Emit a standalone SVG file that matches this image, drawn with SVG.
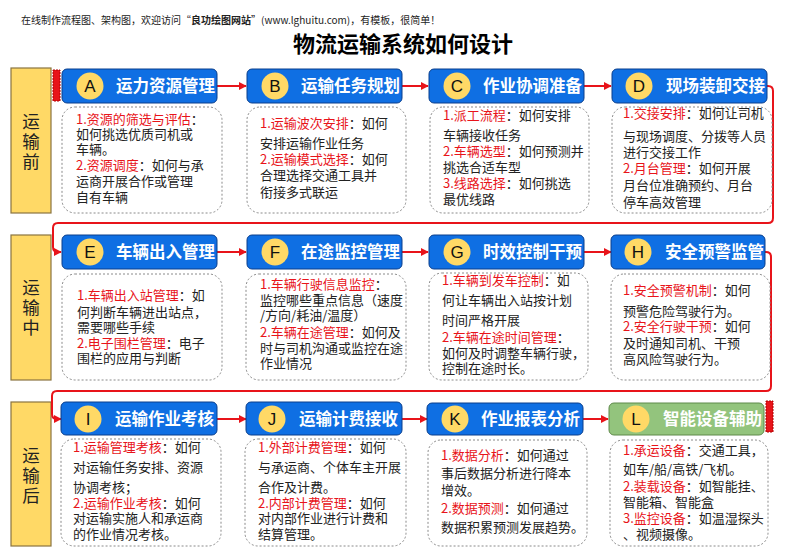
<svg xmlns="http://www.w3.org/2000/svg" width="790" height="558" viewBox="0 0 790 558">
<defs>
<marker id="arr" viewBox="0 0 10 10" refX="9" refY="5" markerWidth="8" markerHeight="8" markerUnits="userSpaceOnUse" orient="auto"><path d="M0,0 L10,5 L0,10 z" fill="#E8141A"/></marker>
<style>
text{font-family:"Noto Sans CJK SC","Liberation Sans",sans-serif;}
.note{font-size:10px;fill:#222;}
.title{font-size:22px;font-weight:700;fill:#000;}
.side{fill:#FFD966;stroke:#8A7440;stroke-width:1.2;}
.sidet{font-size:17.5px;fill:#222;text-anchor:middle;}
.hd{fill:#0F6FE3;stroke:#0A3E8C;stroke-width:1;}
.hdg{fill:#93C47D;stroke:#5E8A4A;stroke-width:1;}
.circ{fill:#FFD966;}
.let{font-family:"Liberation Sans","Noto Sans CJK SC",sans-serif;font-size:17px;fill:#111;text-anchor:middle;}
.ht{font-size:16.5px;font-weight:700;fill:#fff;}
.box{fill:#fff;stroke:#8A8A8A;stroke-width:1;stroke-dasharray:2 2;}
.bt{font-size:13px;fill:#222;}
.r{fill:#E8141A;}
.con{fill:none;stroke:#E8141A;stroke-width:2;marker-end:url(#arr);}
.bar{fill:#E8141A;stroke:#B00000;stroke-width:1;stroke-dasharray:2 1;}
</style>
</defs>
<rect width="790" height="558" fill="#fff"/>
<text class="note" x="21" y="24">在线制作流程图、架构图，欢迎访问“<tspan font-weight="700">良功绘图网站</tspan>”(www.lghuitu.com)，有模板，很简单！</text>
<text class="title" x="403" y="52" text-anchor="middle">物流运输系统如何设计</text>

<g id="stage1"><rect class="side" x="11" y="68" width="40" height="145"/><text class="sidet" x="31" y="128">运</text><text class="sidet" x="31" y="148">输</text><text class="sidet" x="31" y="168">前</text></g>
<g id="stage2"><rect class="side" x="11" y="235" width="40" height="145"/><text class="sidet" x="31" y="294">运</text><text class="sidet" x="31" y="314">输</text><text class="sidet" x="31" y="334">中</text></g>
<g id="stage3"><rect class="side" x="11" y="402" width="40" height="144"/><text class="sidet" x="31" y="462">运</text><text class="sidet" x="31" y="482">输</text><text class="sidet" x="31" y="502">后</text></g>

<rect class="bar" x="53" y="70" width="7" height="31"/>
<rect class="bar" x="766" y="401" width="7" height="31"/>

<g id="connectors">
<path class="con" d="M217,86 H246"/>
<path class="con" d="M402,86 H428"/>
<path class="con" d="M584,86 H611"/>
<path class="con" d="M767,86 H768 Q773,86 773,91 V218 Q773,223 768,223 H58 Q53,223 53,228 V247 Q53,252 58,252 H61"/>
<path class="con" d="M217,252 H246"/>
<path class="con" d="M402,252 H428"/>
<path class="con" d="M584,252 H611"/>
<path class="con" d="M765,252 H766 Q771,252 771,257 V386 Q771,391 766,391 H57 Q52,391 52,396 V414 Q52,419 57,419 H61"/>
<path class="con" d="M217,419 H246"/>
<path class="con" d="M402,419 H427"/>
<path class="con" d="M583,419 H608"/>
</g>

<g id="A"><rect class="hd" x="62" y="69" width="155" height="34" rx="5"/><circle class="circ" cx="90" cy="86" r="13.5"/><text class="let" x="90" y="92">A</text><text class="ht" x="116" y="92">运力资源管理</text>
<rect class="box" x="62" y="107" width="160" height="106" rx="13"/>
<text class="bt" x="76" y="124"><tspan class="r">1.资源的筛选与评估</tspan>：</text>
<text class="bt" x="76" y="139">如何挑选优质司机或</text>
<text class="bt" x="76" y="154">车辆。</text>
<text class="bt" x="76" y="170"><tspan class="r">2.资源调度</tspan>：如何与承</text>
<text class="bt" x="76" y="186">运商开展合作或管理</text>
<text class="bt" x="76" y="202">自有车辆</text></g>

<g id="B"><rect class="hd" x="247" y="69" width="155" height="34" rx="5"/><circle class="circ" cx="275" cy="86" r="13.5"/><text class="let" x="275" y="92">B</text><text class="ht" x="301" y="92">运输任务规划</text>
<rect class="box" x="247" y="107" width="159" height="106" rx="13"/>
<text class="bt" x="260" y="128"><tspan class="r">1.运输波次安排</tspan>：如何</text>
<text class="bt" x="260" y="148">安排运输作业任务</text>
<text class="bt" x="260" y="164"><tspan class="r">2.运输模式选择</tspan>：如何</text>
<text class="bt" x="260" y="180">合理选择交通工具并</text>
<text class="bt" x="260" y="197">衔接多式联运</text></g>

<g id="C"><rect class="hd" x="429" y="69" width="155" height="34" rx="5"/><circle class="circ" cx="457" cy="86" r="13.5"/><text class="let" x="457" y="92">C</text><text class="ht" x="483" y="92">作业协调准备</text>
<rect class="box" x="430" y="107" width="159" height="106" rx="13"/>
<text class="bt" x="443" y="120"><tspan class="r">1.派工流程</tspan>：如何安排</text>
<text class="bt" x="443" y="140">车辆接收任务</text>
<text class="bt" x="443" y="156"><tspan class="r">2.车辆选型</tspan>：如何预测并</text>
<text class="bt" x="443" y="172">挑选合适车型</text>
<text class="bt" x="443" y="188"><tspan class="r">3.线路选择</tspan>：如何挑选</text>
<text class="bt" x="443" y="204">最优线路</text></g>

<g id="D"><rect class="hd" x="612" y="69" width="155" height="34" rx="5"/><circle class="circ" cx="639" cy="86" r="13.5"/><text class="let" x="639" y="92">D</text><text class="ht" x="666" y="92">现场装卸交接</text>
<rect class="box" x="612" y="107" width="160" height="106" rx="13"/>
<text class="bt" x="623" y="118"><tspan class="r">1.交接安排</tspan>：如何让司机</text>
<text class="bt" x="623" y="141">与现场调度、分拨等人员</text>
<text class="bt" x="623" y="157">进行交接工作</text>
<text class="bt" x="623" y="173"><tspan class="r">2.月台管理</tspan>：如何开展</text>
<text class="bt" x="623" y="190">月台位准确预约、月台</text>
<text class="bt" x="623" y="207">停车高效管理</text></g>

<g id="E"><rect class="hd" x="62" y="235" width="155" height="34" rx="5"/><circle class="circ" cx="90" cy="252" r="13.5"/><text class="let" x="90" y="258">E</text><text class="ht" x="116" y="258">车辆出入管理</text>
<rect class="box" x="62" y="274" width="160" height="106" rx="13"/>
<text class="bt" x="77" y="300"><tspan class="r">1.车辆出入站管理</tspan>：如</text>
<text class="bt" x="77" y="317">何判断车辆进出站点，</text>
<text class="bt" x="77" y="332">需要哪些手续</text>
<text class="bt" x="77" y="348"><tspan class="r">2.电子围栏管理</tspan>：电子</text>
<text class="bt" x="77" y="363">围栏的应用与判断</text></g>

<g id="F"><rect class="hd" x="247" y="235" width="155" height="34" rx="5"/><circle class="circ" cx="275" cy="252" r="13.5"/><text class="let" x="275" y="258">F</text><text class="ht" x="301" y="258">在途监控管理</text>
<rect class="box" x="246" y="274" width="160" height="106" rx="13"/>
<text class="bt" x="260" y="289"><tspan class="r">1.车辆行驶信息监控</tspan>：</text>
<text class="bt" x="260" y="305">监控哪些重点信息（速度</text>
<text class="bt" x="260" y="320">/方向/耗油/温度）</text>
<text class="bt" x="260" y="337"><tspan class="r">2.车辆在途管理</tspan>：如何及</text>
<text class="bt" x="260" y="353">时与司机沟通或监控在途</text>
<text class="bt" x="260" y="368">作业情况</text></g>

<g id="G"><rect class="hd" x="429" y="235" width="155" height="34" rx="5"/><circle class="circ" cx="457" cy="252" r="13.5"/><text class="let" x="457" y="258">G</text><text class="ht" x="483" y="258">时效控制干预</text>
<rect class="box" x="429" y="273" width="159" height="107" rx="13"/>
<text class="bt" x="442" y="285"><tspan class="r">1.车辆到发车控制</tspan>：如</text>
<text class="bt" x="442" y="305">何让车辆出入站按计划</text>
<text class="bt" x="442" y="325">时间严格开展</text>
<text class="bt" x="442" y="342"><tspan class="r">2.车辆在途时间管理</tspan>：</text>
<text class="bt" x="442" y="358">如何及时调整车辆行驶，</text>
<text class="bt" x="442" y="373">控制在途时长。</text></g>

<g id="H"><rect class="hd" x="611" y="235" width="154" height="34" rx="5"/><circle class="circ" cx="638" cy="252" r="13.5"/><text class="let" x="638" y="258">H</text><text class="ht" x="665" y="258">安全预警监管</text>
<rect class="box" x="611" y="274" width="159" height="106" rx="13"/>
<text class="bt" x="623" y="295"><tspan class="r">1.安全预警机制</tspan>：如何</text>
<text class="bt" x="623" y="316">预警危险驾驶行为。</text>
<text class="bt" x="623" y="331"><tspan class="r">2.安全行驶干预</tspan>：如何</text>
<text class="bt" x="623" y="348">及时通知司机、干预</text>
<text class="bt" x="623" y="364">高风险驾驶行为。</text></g>

<g id="I"><rect class="hd" x="61" y="402" width="156" height="33" rx="5"/><circle class="circ" cx="88" cy="419" r="13.5"/><text class="let" x="88" y="425">I</text><text class="ht" x="115" y="425">运输作业考核</text>
<rect class="box" x="61" y="439" width="160" height="107" rx="13"/>
<text class="bt" x="73" y="452"><tspan class="r">1.运输管理考核</tspan>：如何</text>
<text class="bt" x="73" y="472">对运输任务安排、资源</text>
<text class="bt" x="73" y="492">协调考核；</text>
<text class="bt" x="73" y="508"><tspan class="r">2.运输作业考核</tspan>：如何</text>
<text class="bt" x="73" y="523">对运输实施人和承运商</text>
<text class="bt" x="73" y="539">的作业情况考核。</text></g>

<g id="J"><rect class="hd" x="246" y="402" width="156" height="33" rx="5"/><circle class="circ" cx="272" cy="419" r="13.5"/><text class="let" x="272" y="425">J</text><text class="ht" x="299" y="425">运输计费接收</text>
<rect class="box" x="245" y="439" width="161" height="107" rx="13"/>
<text class="bt" x="258" y="452"><tspan class="r">1.外部计费管理</tspan>：如何</text>
<text class="bt" x="258" y="472">与承运商、个体车主开展</text>
<text class="bt" x="258" y="492">合作及计费。</text>
<text class="bt" x="258" y="508"><tspan class="r">2.内部计费管理</tspan>：如何</text>
<text class="bt" x="258" y="523">对内部作业进行计费和</text>
<text class="bt" x="258" y="539">结算管理。</text></g>

<g id="K"><rect class="hd" x="427" y="403" width="156" height="32" rx="5"/><circle class="circ" cx="455" cy="419" r="13.5"/><text class="let" x="455" y="425">K</text><text class="ht" x="481" y="425">作业报表分析</text>
<rect class="box" x="428" y="440" width="159" height="106" rx="13"/>
<text class="bt" x="441" y="460"><tspan class="r">1.数据分析</tspan>：如何通过</text>
<text class="bt" x="441" y="478">事后数据分析进行降本</text>
<text class="bt" x="441" y="495">增效。</text>
<text class="bt" x="441" y="513"><tspan class="r">2.数据预测</tspan>：如何通过</text>
<text class="bt" x="441" y="532">数据积累预测发展趋势。</text></g>

<g id="L"><rect class="hdg" x="609" y="403" width="155" height="32" rx="5"/><circle class="circ" cx="636" cy="419" r="13.5"/><text class="let" x="636" y="425">L</text><text class="ht" x="663" y="425">智能设备辅助</text>
<rect class="box" x="610" y="440" width="158" height="106" rx="13"/>
<text class="bt" x="623" y="455"><tspan class="r">1.承运设备</tspan>：交通工具，</text>
<text class="bt" x="623" y="474">如车/船/高铁/飞机。</text>
<text class="bt" x="623" y="491"><tspan class="r">2.装载设备</tspan>：如智能挂、</text>
<text class="bt" x="623" y="507">智能箱、智能盒</text>
<text class="bt" x="623" y="523"><tspan class="r">3.监控设备</tspan>：如温湿探头</text>
<text class="bt" x="623" y="539">、视频摄像。</text></g>
</svg>
